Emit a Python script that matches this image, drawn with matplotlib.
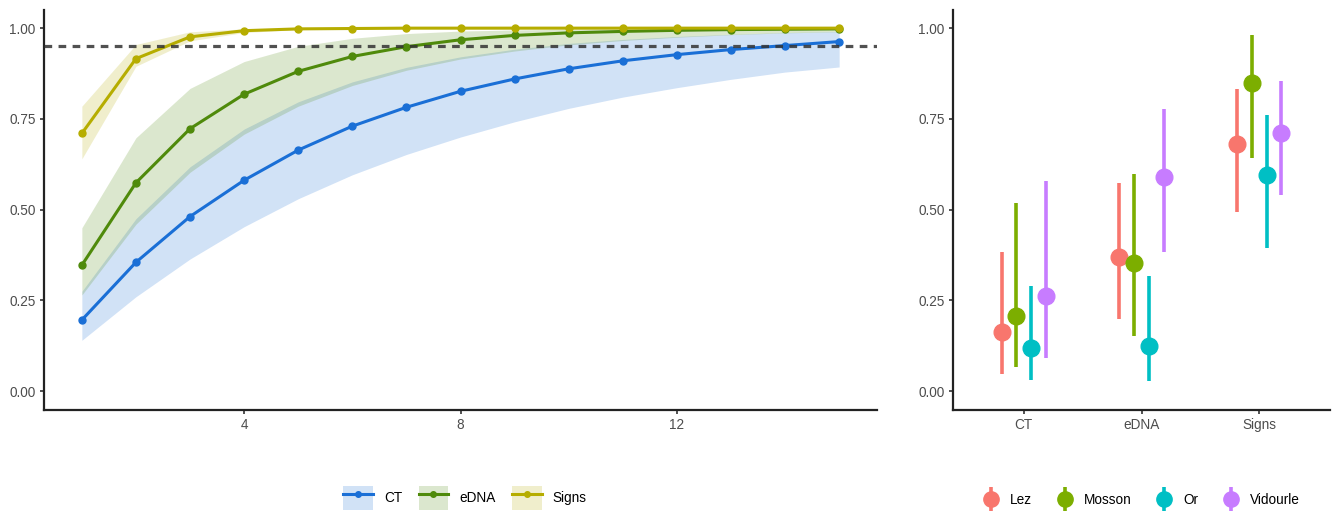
import numpy as np
import matplotlib
matplotlib.use('Agg')
import matplotlib.pyplot as plt
from matplotlib.lines import Line2D
from matplotlib.patches import Patch

plt.rcParams['font.family'] = ['Liberation Sans', 'DejaVu Sans']

# Левая панель: кумулятивная вероятность обнаружения
n_samples = list(range(1, 16))
ct_mean = [0.196, 0.355, 0.481, 0.581, 0.664, 0.730, 0.782, 0.826, 0.860,
           0.888, 0.910, 0.927, 0.941, 0.952, 0.963]
ct_low = [0.140, 0.260, 0.364, 0.453, 0.530, 0.596, 0.652, 0.700, 0.742,
          0.779, 0.810, 0.836, 0.859, 0.879, 0.893]
ct_high = [0.275, 0.475, 0.618, 0.722, 0.797, 0.852, 0.892, 0.921, 0.942,
           0.958, 0.969, 0.977, 0.983, 0.988, 0.991]
edna_mean = [0.347, 0.574, 0.723, 0.818, 0.881, 0.922, 0.949, 0.968, 0.980,
             0.987, 0.991, 0.994, 0.996, 0.997, 0.998]
edna_low = [0.265, 0.460, 0.603, 0.708, 0.785, 0.842, 0.884, 0.915, 0.937,
            0.954, 0.966, 0.975, 0.982, 0.987, 0.990]
edna_high = [0.450, 0.698, 0.834, 0.908, 0.950, 0.972, 0.985, 0.992, 0.995,
             0.997, 0.998, 0.999, 0.999, 1.000, 1.000]
signs_mean = [0.710, 0.916, 0.976, 0.993, 0.998, 0.999, 1.000, 1.000, 1.000,
              1.000, 1.000, 1.000, 1.000, 1.000, 1.000]
signs_low = [0.640, 0.895, 0.965, 0.988, 0.996, 0.998, 0.999, 1.000, 1.000,
             1.000, 1.000, 1.000, 1.000, 1.000, 1.000]
signs_high = [0.785, 0.955, 0.990, 0.998, 1.000, 1.000, 1.000, 1.000, 1.000,
              1.000, 1.000, 1.000, 1.000, 1.000, 1.000]
threshold = 0.95

# Правая панель: вероятность обнаружения по рекам
methods = ['CT', 'eDNA', 'Signs']
rivers = ['Lez', 'Mosson', 'Or', 'Vidourle']
river_mean = {
    'Lez':      [0.163, 0.370, 0.682],
    'Mosson':   [0.207, 0.352, 0.848],
    'Or':       [0.120, 0.124, 0.595],
    'Vidourle': [0.263, 0.590, 0.710],
}
river_low = {
    'Lez':      [0.047, 0.200, 0.494],
    'Mosson':   [0.067, 0.152, 0.643],
    'Or':       [0.032, 0.028, 0.393],
    'Vidourle': [0.090, 0.382, 0.540],
}
river_high = {
    'Lez':      [0.383, 0.574, 0.831],
    'Mosson':   [0.518, 0.597, 0.981],
    'Or':       [0.289, 0.317, 0.760],
    'Vidourle': [0.578, 0.777, 0.855],
}

method_colors = {'CT': '#1a6fd6', 'eDNA': '#4f8a0b', 'Signs': '#b6ad00'}
river_colors = {'Lez': '#F8766D', 'Mosson': '#7CAE00', 'Or': '#00BFC4', 'Vidourle': '#C77CFF'}

fig = plt.figure(figsize=(13.36, 5.16), dpi=100)
W, H = 1336, 516
ax1 = fig.add_axes([44 / W, 1 - 410 / H, (877 - 44) / W, 400 / H])
ax2 = fig.add_axes([953 / W, 1 - 410 / H, (1330 - 953) / W, 400 / H])


def style_axis(ax):
    for side in ['top', 'right']:
        ax.spines[side].set_visible(False)
    for side in ['left', 'bottom']:
        ax.spines[side].set_linewidth(1.6)
        ax.spines[side].set_color('#222222')
    ax.tick_params(axis='both', length=3, width=1.2, color='#333333',
                   labelsize=9.8, labelcolor='#4d4d4d', pad=3)
    ax.set_ylim(-0.052, 1.05)
    ax.set_yticks([0, 0.25, 0.5, 0.75, 1.0])
    ax.set_yticklabels(['0.00', '0.25', '0.50', '0.75', '1.00'])


# ---- левая панель
series = [
    ('CT', ct_mean, ct_low, ct_high),
    ('eDNA', edna_mean, edna_low, edna_high),
    ('Signs', signs_mean, signs_low, signs_high),
]
for name, mean, low, high in series:
    ax1.fill_between(n_samples, low, high, color=method_colors[name], alpha=0.2, lw=0)
for name, mean, low, high in series:
    ax1.plot(n_samples, mean, color=method_colors[name], lw=2.2,
             marker='o', ms=5, zorder=3)
ax1.axhline(threshold, color='#333333', lw=2.3, ls=(0, (2.4, 2.0)), alpha=0.85, zorder=4)
ax1.set_xlim(0.3, 15.7)
ax1.set_xticks([4, 8, 12])
style_axis(ax1)

handles1 = []
for name, *_ in series:
    patch = Patch(facecolor=method_colors[name], alpha=0.2, edgecolor='none')
    line = Line2D([], [], color=method_colors[name], lw=2.2, marker='o', ms=4)
    handles1.append((patch, line))
fig.legend(handles1, [s[0] for s in series], loc='center',
           bbox_to_anchor=(465 / W, 1 - 498 / H), ncol=3, frameon=False,
           fontsize=9.8, handlelength=2.2, handleheight=2.4, columnspacing=1.2,
           handletextpad=0.8)

# ---- правая панель
x_pos = np.arange(1, len(methods) + 1)
offsets = [-0.1875, -0.0625, 0.0625, 0.1875]
for river, off in zip(rivers, offsets):
    xs = x_pos + off
    for x, lo, hi in zip(xs, river_low[river], river_high[river]):
        ax2.plot([x, x], [lo, hi], color=river_colors[river], lw=2.6, solid_capstyle='butt')
    ax2.plot(xs, river_mean[river], 'o', color=river_colors[river], ms=12, zorder=3)
ax2.set_xlim(0.4, 3.6)
ax2.set_xticks(x_pos)
ax2.set_xticklabels(methods)
style_axis(ax2)

handles2 = []
for river in rivers:
    vline = Line2D([], [], color=river_colors[river], marker='|', ms=17, mew=2.6, ls='none')
    dot = Line2D([], [], color=river_colors[river], marker='o', ms=11, ls='none')
    handles2.append((vline, dot))
fig.legend(handles2, rivers, loc='center',
           bbox_to_anchor=(1140 / W, 1 - 500 / H), ncol=4, frameon=False,
           fontsize=9.8, handlelength=1.6, columnspacing=1.6, handletextpad=0.6)

fig.savefig('out.png', dpi=100)
